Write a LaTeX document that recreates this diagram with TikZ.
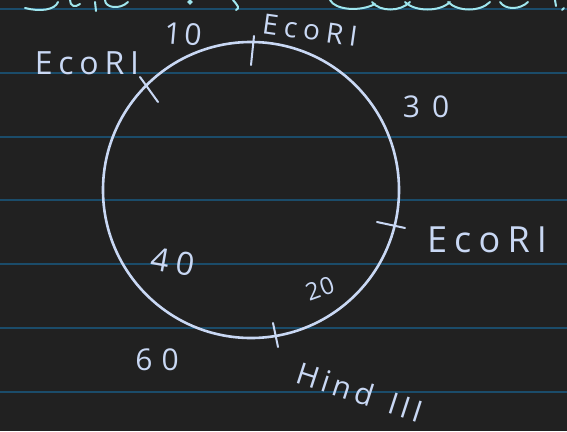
\documentclass[tikz,border=0pt]{standalone}
\usepackage{fontspec}
\setmainfont{Open Sans}
\definecolor{bg}{HTML}{212121}
\definecolor{rule}{HTML}{1B4C6A}
\definecolor{ink}{HTML}{C9D8F4}
\definecolor{cyanink}{HTML}{9FE6EE}
\newcommand{\fs}[2]{\fontsize{#1}{#1}\selectfont\addfontfeature{LetterSpace=#2}}
\begin{document}
\begin{tikzpicture}[x=1pt,y=-1pt,
  lbl/.style={text=ink,inner sep=0pt},
  cut/.style={draw=ink,line width=2pt,line cap=round}]
\fill[bg] (0,0) rectangle (567,431);
\useasboundingbox (0,0) rectangle (567,431);
% ruled lines
\foreach \yy in {9,73,137,200,264,328,392}
  \draw[rule,line width=2pt] (0,\yy) -- (567,\yy);
% cut-off handwriting at the top
\begin{scope}
\clip (0,0) rectangle (567,12);
\draw[cyanink,line width=2pt,line cap=round]
  (25,8) .. controls (40,12) and (55,10) .. (58,2)
  (70,0) .. controls (70,6) and (75,8) .. (80,4)
  (95,2) -- (96,11)
  (105,0) .. controls (105,8) and (120,10) .. (128,2)
  (190,2) circle (1.5)
  (233,0) .. controls (238,6) and (240,8) .. (236,10)
  (330,0) .. controls (335,10) and (360,12) .. (375,4)
  (372,2) .. controls (380,12) and (400,12) .. (410,2)
  (405,2) .. controls (415,12) and (440,12) .. (450,2)
  (448,2) .. controls (458,12) and (480,12) .. (490,2)
  (500,2) .. controls (505,10) and (520,10) .. (528,2)
  (555,0) -- (556,6) (562,10) -- (564,8);
\end{scope}
% plasmid circle
\node[draw=ink,line width=2.6pt,circle,minimum size=296pt,inner sep=0pt] (plasmid) at (251,190) {};
% restriction site ticks
\coordinate (t1a) at (254,36); \coordinate (t1b) at (251,65);
\coordinate (t2a) at (140,77); \coordinate (t2b) at (158,102);
\coordinate (t3a) at (377,222); \coordinate (t3b) at (405,228);
\coordinate (t4a) at (273,323); \coordinate (t4b) at (278,347);
\draw[cut] (t1a) -- (t1b);
\draw[cut] (t2a) -- (t2b);
\draw[cut] (t3a) -- (t3b);
\draw[cut] (t4a) -- (t4b);
% labels
\node[lbl,rotate=-8,font=\fs{28}{22}] (e1) at (310,30) {EcoRI};
\node[lbl,font=\fs{32}{18}] (e2) at (87,63) {EcoRI};
\node[lbl,font=\fs{36}{20}] (e3) at (487,240) {EcoRI};
\node[lbl,rotate=-18,font=\fs{30}{14}] (h1) at (360,392) {Hind\hspace{18pt}III};
\node[lbl,rotate=-5,font=\fs{30}{10}] (n10) at (183,34) {10};
\node[lbl,font=\fs{30}{40}] (n30) at (426,107) {30};
\node[lbl,rotate=-10,font=\fs{32}{25}] (n40) at (173,262) {40};
\node[lbl,rotate=20,font=\fs{24}{5}] (n20) at (320,289) {20};
\node[lbl,font=\fs{30}{30}] (n60) at (157,360) {60};
\end{tikzpicture}
\end{document}
